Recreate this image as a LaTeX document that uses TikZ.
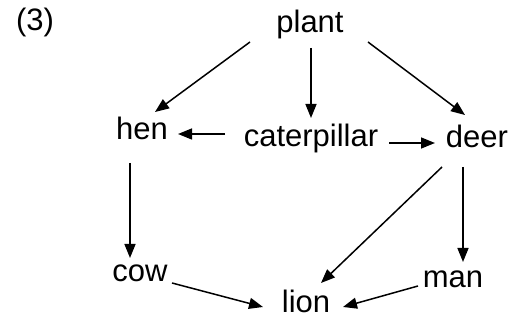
\documentclass[tikz,border=0pt]{standalone}
\usepackage{fontspec}
\setmainfont{Liberation Sans}
\usetikzlibrary{arrows.meta,calc}
\begin{document}
\begin{tikzpicture}
[x=0.5pt,y=-0.5pt,
  nodedecorate/.style={anchor=base,inner sep=3pt,font=\fontsize{15.5}{19}\selectfont},%
  linedecorate/.style={-{Triangle[length=7pt,width=5.5pt]},line width=0.75pt}]
\useasboundingbox (0,0) rectangle (510,320);
%%
%% food web
%% nodes or animals
\node (label) at (35,31) [nodedecorate] {(3)};
\foreach \nodename/\x/\y in {plant/310/33, hen/142/140, caterpillar/311/147,
  deer/477/148, cow/140/282, lion/306/313, man/453/288} {
  \node (\nodename) at (\x,\y) [nodedecorate] {\nodename};
}
%% edges or arrows
\foreach \startnode/\sx/\sy/\endnode/\ex/\ey in {plant/-60/9/hen/13/-28,
  plant/1/15/caterpillar/0/-29, plant/58/9/deer/-12/-33,
  caterpillar/-86/-13/hen/36/-6, caterpillar/78/-4/deer/-42/-5,
  hen/-12/23/cow/-10/-24, deer/-35/19/lion/15/-30, deer/-14/19/man/10/-26,
  cow/32/1/lion/-43/-6, man/-35/-2/lion/37/-6} {
  \draw[linedecorate] ($(\startnode.base)+(\sx,\sy)$) -- ($(\endnode.base)+(\ex,\ey)$);
}
\end{tikzpicture}
\end{document}
